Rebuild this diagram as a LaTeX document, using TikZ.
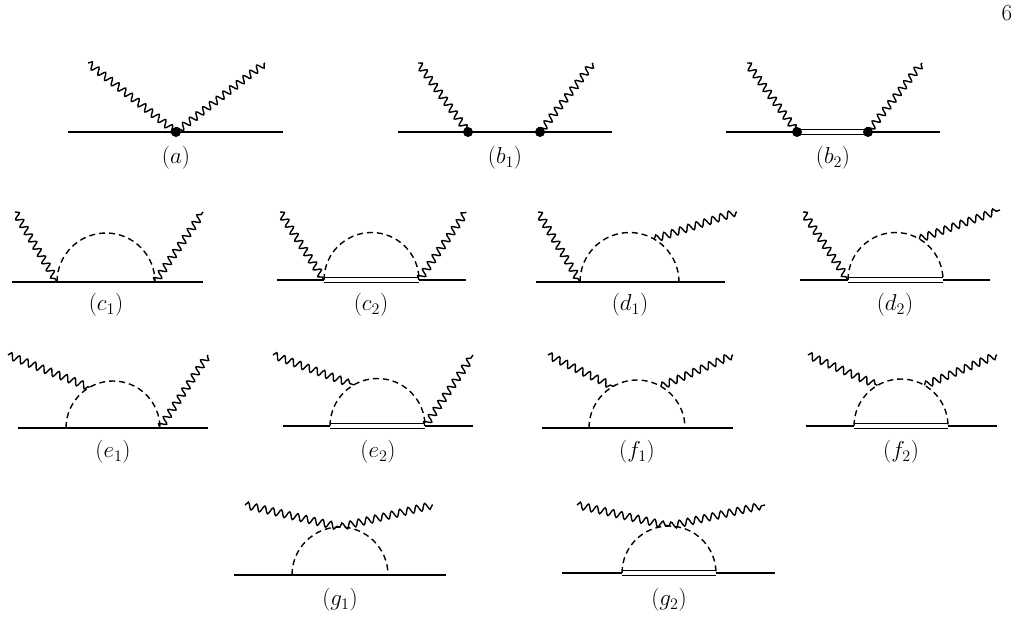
\RequirePackage{fix-cm}
\documentclass[tikz,border=0pt]{standalone}
\usetikzlibrary{decorations.pathmorphing}
\newcommand\labfont{\fontsize{23}{26}\selectfont}
\begin{document}
\begin{tikzpicture}[x=1pt,y=-1pt,
  ferm/.style={line width=1.8pt},
  dbl/.style={double,double distance=3.4pt,line width=1pt},
  pho/.style={line width=1.4pt,decorate,decoration={snake,segment length=8.5pt,amplitude=3.5pt}},
  sca/.style={line width=1.4pt,dash pattern=on 6pt off 4pt},
  vtx/.style={circle,fill,inner sep=0pt,minimum size=10pt},
  lab/.style={font=\labfont}]
\useasboundingbox (0,0) rectangle (1020,619);
\node[lab] (pg) at (1007,13) {6};
% (a)
\coordinate (aL) at (68,132); \coordinate (aR) at (283,132);
\node[vtx] (av) at (176,132) {};
\coordinate (ap1) at (88,63); \coordinate (ap2) at (265,63);
\draw[ferm] (aL) -- (aR);
\draw[pho] (ap1) -- (av.center); \draw[pho] (av.center) -- (ap2);
\node[lab] (la) at (176,158) {$(a)$};
% (b1)
\coordinate (b1L) at (398,132); \coordinate (b1R) at (612,132);
\node[vtx] (b1v) at (468,132) {}; \node[vtx] (b1w) at (540,132) {};
\coordinate (b1p1) at (418,63); \coordinate (b1p2) at (593,63);
\draw[ferm] (b1L) -- (b1R);
\draw[pho] (b1p1) -- (b1v.center); \draw[pho] (b1w.center) -- (b1p2);
\node[lab] (lb1) at (505,158) {$(b_1)$};
% (b2)
\coordinate (b2L) at (726,132); \coordinate (b2R) at (940,132);
\coordinate (b2v) at (797,132); \coordinate (b2w) at (868,132);
\coordinate (b2p1) at (747,63); \coordinate (b2p2) at (922,63);
\draw[ferm] (b2L) -- (b2v); \draw[ferm] (b2w) -- (b2R);
\draw[dbl] (b2v) -- (b2w);
\node[vtx] (b2a) at (b2v) {}; \node[vtx] (b2b) at (b2w) {};
\draw[pho] (b2p1) -- (b2v); \draw[pho] (b2w) -- (b2p2);
\node[lab] (lb2) at (833,158) {$(b_2)$};
% (c1)
\coordinate (c1L) at (12,282); \coordinate (c1R) at (203,282);
\coordinate (c1a) at (57,282); \coordinate (c1b) at (155,282);
\draw[ferm] (c1L) -- (c1R);
\draw[sca] (c1a) arc[start angle=180,end angle=360,radius=49];
\draw[pho] (15,212) -- (c1a); \draw[pho] (c1b) -- (203,212);
\node[lab] (lc1) at (106,305) {$(c_1)$};
% (c2)
\coordinate (c2L) at (277,280); \coordinate (c2R) at (466,280);
\coordinate (c2a) at (324,280); \coordinate (c2b) at (419,280);
\draw[ferm] (c2L) -- (c2a); \draw[ferm] (c2b) -- (c2R); \draw[dbl] (c2a) -- (c2b);
\draw[sca] (c2a) arc[start angle=180,end angle=360,radius=47.5];
\draw[pho] (280,212) -- (c2a); \draw[pho] (c2b) -- (466,212);
\node[lab] (lc2) at (371,305) {$(c_2)$};
% (d1)
\coordinate (d1L) at (536,282); \coordinate (d1R) at (725,282);
\coordinate (d1a) at (580,282); \coordinate (d1b) at (679,282);
\draw[ferm] (d1L) -- (d1R);
\draw[sca] (d1a) arc[start angle=180,end angle=360,radius=49.5];
\path (629.5,282) ++(-60:49.5) coordinate (d1t);
\draw[pho] (538,212) -- (d1a); \draw[pho] (d1t) -- (737,212);
\node[lab] (ld1) at (630,305) {$(d_1)$};
% (d2)
\coordinate (d2L) at (800,280); \coordinate (d2R) at (990,280);
\coordinate (d2a) at (848,280); \coordinate (d2b) at (943,280);
\draw[ferm] (d2L) -- (d2a); \draw[ferm] (d2b) -- (d2R); \draw[dbl] (d2a) -- (d2b);
\draw[sca] (d2a) arc[start angle=180,end angle=360,radius=47.5];
\path (895.5,280) ++(-60:47.5) coordinate (d2t);
\draw[pho] (803,212) -- (d2a); \draw[pho] (d2t) -- (1000,210);
\node[lab] (ld2) at (895,305) {$(d_2)$};
% (e1)
\coordinate (e1L) at (18,428); \coordinate (e1R) at (208,428);
\coordinate (e1a) at (66,428); \coordinate (e1b) at (160,428);
\draw[ferm] (e1L) -- (e1R);
\draw[sca] (e1a) arc[start angle=180,end angle=360,radius=47];
\path (113,428) ++(-120:47) coordinate (e1t);
\draw[pho] (8,355) -- (e1t); \draw[pho] (e1b) -- (208,355);
\node[lab] (le1) at (113,452) {$(e_1)$};
% (e2)
\coordinate (e2L) at (283,426); \coordinate (e2R) at (473,426);
\coordinate (e2a) at (330,426); \coordinate (e2b) at (425,426);
\draw[ferm] (e2L) -- (e2a); \draw[ferm] (e2b) -- (e2R); \draw[dbl] (e2a) -- (e2b);
\draw[sca] (e2a) arc[start angle=180,end angle=360,radius=47.5];
\path (377.5,426) ++(-120:47.5) coordinate (e2t);
\draw[pho] (273,355) -- (e2t); \draw[pho] (e2b) -- (473,355);
\node[lab] (le2) at (378,452) {$(e_2)$};
% (f1)
\coordinate (f1L) at (542,428); \coordinate (f1R) at (733,428);
\coordinate (f1a) at (589,428); \coordinate (f1b) at (685,428);
\draw[ferm] (f1L) -- (f1R);
\draw[sca] (f1a) arc[start angle=180,end angle=360,radius=48];
\path (637,428) ++(-120:48) coordinate (f1t); \path (637,428) ++(-60:48) coordinate (f1u);
\draw[pho] (548,355) -- (f1t); \draw[pho] (f1u) -- (733,355);
\node[lab] (lf1) at (637,452) {$(f_1)$};
% (f2)
\coordinate (f2L) at (806,426); \coordinate (f2R) at (997,426);
\coordinate (f2a) at (854,426); \coordinate (f2b) at (948,426);
\draw[ferm] (f2L) -- (f2a); \draw[ferm] (f2b) -- (f2R); \draw[dbl] (f2a) -- (f2b);
\draw[sca] (f2a) arc[start angle=180,end angle=360,radius=47];
\path (901,426) ++(-120:47) coordinate (f2t); \path (901,426) ++(-60:47) coordinate (f2u);
\draw[pho] (808,355) -- (f2t); \draw[pho] (f2u) -- (997,355);
\node[lab] (lf2) at (901,452) {$(f_2)$};
% (g1)
\coordinate (g1L) at (234,575); \coordinate (g1R) at (446,575);
\coordinate (g1a) at (292,575); \coordinate (g1b) at (388,575);
\draw[ferm] (g1L) -- (g1R);
\draw[sca] (g1a) arc[start angle=180,end angle=360,radius=48];
\coordinate (g1t) at (340,527);
\draw[pho] (245,505) -- (g1t); \draw[pho] (g1t) -- (433,505);
\node[lab] (lg1) at (340,600) {$(g_1)$};
% (g2)
\coordinate (g2L) at (562,573); \coordinate (g2R) at (775,573);
\coordinate (g2a) at (622,573); \coordinate (g2b) at (716,573);
\draw[ferm] (g2L) -- (g2a); \draw[ferm] (g2b) -- (g2R); \draw[dbl] (g2a) -- (g2b);
\draw[sca] (g2a) arc[start angle=180,end angle=360,radius=47];
\coordinate (g2t) at (669,526);
\draw[pho] (577,505) -- (g2t); \draw[pho] (g2t) -- (765,505);
\node[lab] (lg2) at (669,600) {$(g_2)$};
\end{tikzpicture}
\end{document}
